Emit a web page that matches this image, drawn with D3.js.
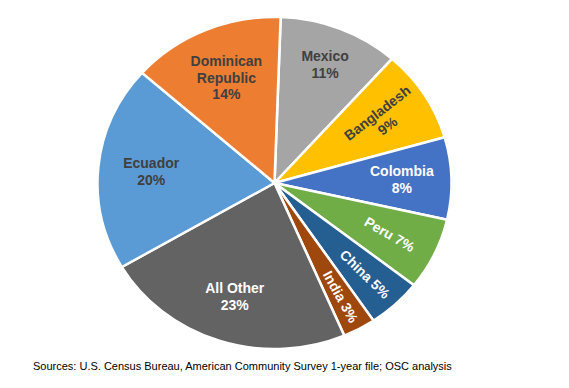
<!DOCTYPE html>
<html>
<head>
<meta charset="utf-8">
<script src="https://cdn.jsdelivr.net/npm/d3@7"></script>
<style>
  body { margin: 0; background: #fff; }
  svg { display: block; }
</style>
</head>
<body>
<div id="chart"></div>
<script>
// data, clockwise from the top
var countries = ["Mexico", "Bangladesh", "Colombia", "Peru", "China", "India", "All Other", "Ecuador", "Dominican Republic"];
var shares = [11, 9, 8, 7, 5, 3, 23, 20, 14];
var colors = ["#a5a5a5", "#ffc000", "#4472c4", "#70ad47", "#255e91", "#9e480e", "#636363", "#5b9bd5", "#ed7d31"];
var source = "Sources: U.S. Census Bureau, American Community Survey 1-year file; OSC analysis";

var width = 569, height = 388;
var cx = 274.5, cy = 183, r = 166, sx = 177 / 166;

// label look
var darkLabels = ["Mexico", "Bangladesh", "Ecuador", "Dominican Republic"];
var rotated = {"Bangladesh": -38, "Peru": 30, "China": 44, "India": 61};
var lines = {
  "Dominican Republic": ["Dominican", "Republic"],
  "Bangladesh": ["Bangladesh"],
  "All Other": ["All Other"]
};
// how far out each label sits (share of radius)
var labelPos = {"Mexico": 0.77, "Dominican Republic": 0.69, "China": 0.75, "India": 0.78, "Ecuador": 0.7};

var data = countries.map(function(c, i) { return {name: c, value: shares[i], color: colors[i]}; });

var svg = d3.select("#chart")
  .append("svg")
    .attr("width", width)
    .attr("height", height);

var pie = d3.pie()
  .sort(null)
  .value(function(d) { return d.value; })
  .startAngle(2 * Math.PI / 180)
  .endAngle(2 * Math.PI + 2 * Math.PI / 180);

var arcs = pie(data);
var arc = d3.arc().innerRadius(0).outerRadius(r);

// slices (chart picture is a bit wider than tall)
svg.append("g")
    .attr("transform", "translate(" + cx + "," + cy + ") scale(" + sx + ",1)")
  .selectAll("path")
  .data(arcs)
  .enter()
  .append("path")
    .attr("d", arc)
    .attr("fill", function(d) { return d.data.color; })
    .attr("stroke", "#fff")
    .attr("stroke-width", 2.4)
    .attr("stroke-linejoin", "round");

// labels
var lbl = svg.append("g")
  .selectAll("g")
  .data(arcs)
  .enter()
  .append("g")
    .attr("transform", function(d) {
      var a = (d.startAngle + d.endAngle) / 2;
      var lr = r * (labelPos[d.data.name] || 0.72);
      var x = cx + Math.sin(a) * lr * sx;
      var y = cy - Math.cos(a) * lr;
      var rot = rotated[d.data.name] || 0;
      return "translate(" + x + "," + y + ") rotate(" + rot + ")";
    });

lbl.each(function(d) {
  var g = d3.select(this);
  var name = d.data.name;
  var rows;
  if (rotated[name] !== undefined && !lines[name]) {
    rows = [name + " " + d.data.value + "%"];
  } else {
    rows = (lines[name] || [name]).concat([d.data.value + "%"]);
  }
  var lh = 16.5;
  var y0 = -(rows.length - 1) * lh / 2;
  g.selectAll("text")
    .data(rows)
    .enter()
    .append("text")
      .attr("x", 0)
      .attr("y", function(t, i) { return y0 + i * lh; })
      .attr("dy", "0.36em")
      .attr("text-anchor", "middle")
      .style("font-family", "Liberation Sans, Arial, sans-serif")
      .style("font-weight", "bold")
      .style("font-size", "14px")
      .style("fill", darkLabels.indexOf(name) > -1 ? "#404040" : "#fff")
      .text(function(t) { return t; });
});

// source note
svg.append("text")
  .attr("x", 33)
  .attr("y", 370)
  .style("font-family", "Liberation Sans, Arial, sans-serif")
  .style("font-size", "11px")
  .style("fill", "#000")
  .text(source);
</script>
</body>
</html>
